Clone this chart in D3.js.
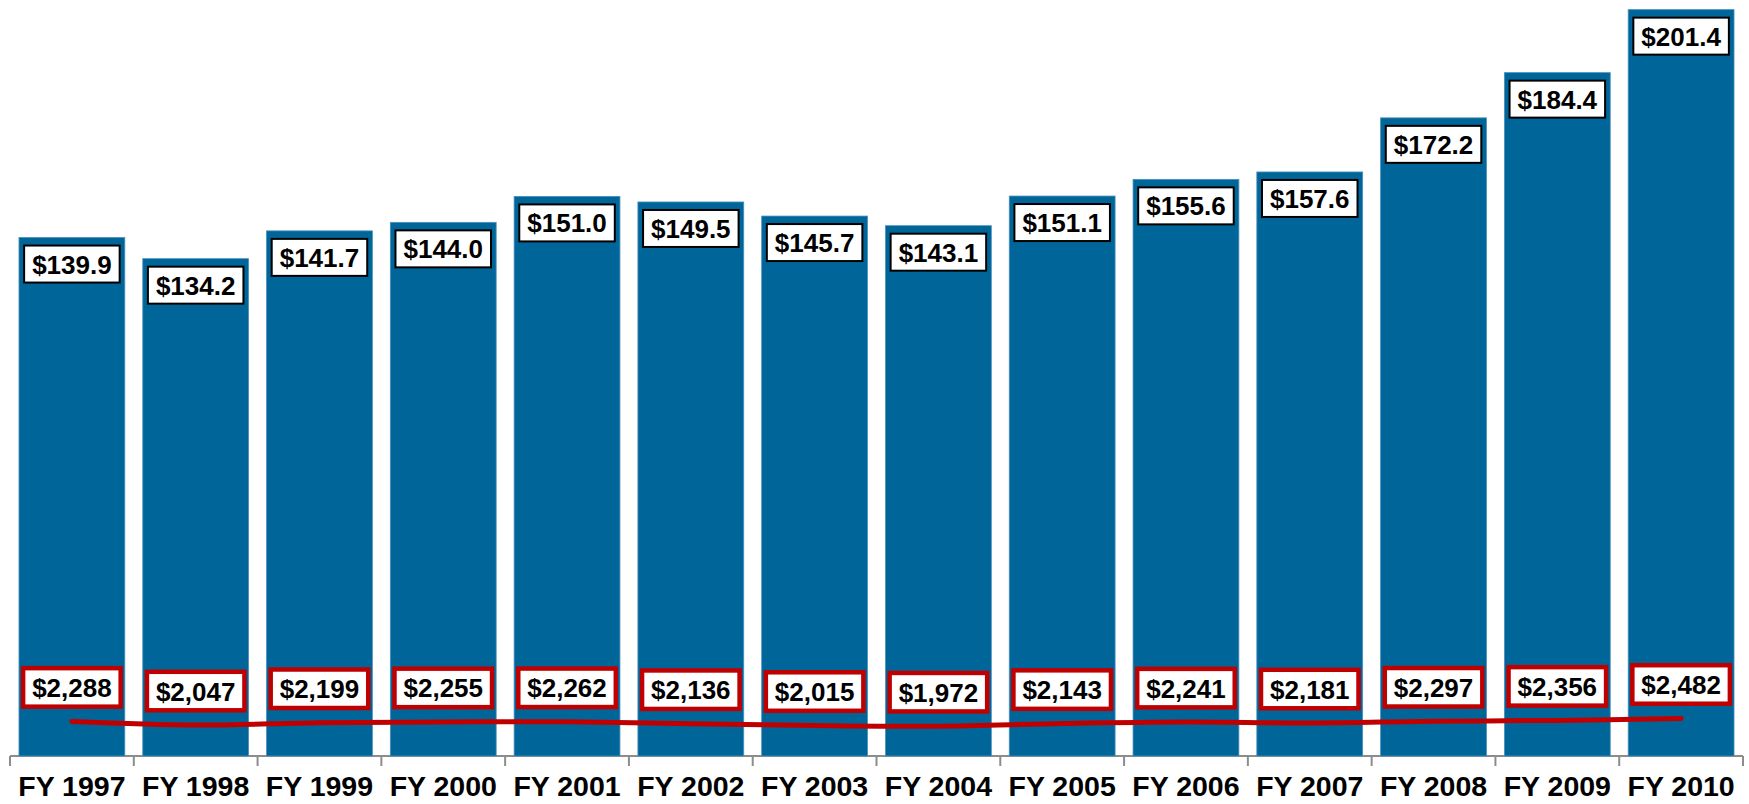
<!DOCTYPE html>
<html>
<head>
<meta charset="utf-8">
<script src="https://cdn.jsdelivr.net/npm/d3@7"></script>
<style>
  body { margin: 0; background: #fff; }
  text { font-family: "Liberation Sans", Arial, sans-serif; font-weight: bold; fill: #000; }
</style>
</head>
<body>
<svg></svg>
<script>
// DATA
const years = ["FY 1997", "FY 1998", "FY 1999", "FY 2000", "FY 2001", "FY 2002", "FY 2003",
               "FY 2004", "FY 2005", "FY 2006", "FY 2007", "FY 2008", "FY 2009", "FY 2010"];
const totalValues = [139.9, 134.2, 141.7, 144.0, 151.0, 149.5, 145.7, 143.1, 151.1, 155.6, 157.6, 172.2, 184.4, 201.4];
const perCapitaValues = [2288, 2047, 2199, 2255, 2262, 2136, 2015, 1972, 2143, 2241, 2181, 2297, 2356, 2482];

// GLOBAL DECLARATIONS
let svg;
let width = 1749;
let height = 804;
let baseY = 756;
let x, y, y2;
const padInner = 0.145;

setupPage();
drawAxis();
drawBars();
drawLine();

function setupPage(){
  svg = d3.select("svg")
    .attr("width", width)
    .attr("height", height);

  x = d3.scaleBand()
    .domain(years)
    .range([10, 1743])
    .paddingInner(padInner)
    .paddingOuter(padInner / 2);

  y = d3.scaleLinear()
    .domain([0, 204])
    .range([baseY, 0]);

  // secondary scale for the red line
  y2 = d3.scaleLinear()
    .domain([0, 50000])
    .range([baseY, 0]);
}

function drawAxis(){
  let axis = svg.append("g").attr("class", "x-axis");
  let step = x.step();
  let bounds = years.map(d => x(d) - step * padInner / 2);
  bounds.push(x.range()[1]);

  axis.append("line")
    .attr("x1", x.range()[0]).attr("x2", x.range()[1])
    .attr("y1", baseY).attr("y2", baseY)
    .attr("stroke", "#8c8c8c").attr("stroke-width", 2);

  axis.selectAll(".tick")
    .data(bounds)
    .enter()
    .append("line")
    .attr("class", "tick")
    .attr("x1", d => d).attr("x2", d => d)
    .attr("y1", baseY).attr("y2", baseY + 10)
    .attr("stroke", "#8c8c8c").attr("stroke-width", 2);

  axis.selectAll(".year-label")
    .data(years)
    .enter()
    .append("text")
    .attr("class", "year-label")
    .attr("x", d => x(d) + x.bandwidth() / 2)
    .attr("y", 796)
    .attr("text-anchor", "middle")
    .style("font-size", "28.5px")
    .text(d => d);
}

function drawBars(){
  let bars = svg.selectAll(".bar")
    .data(totalValues)
    .enter()
    .append("g")
    .attr("class", "bar");

  bars.append("rect")
    .attr("x", (d, i) => x(years[i]))
    .attr("y", d => y(d))
    .attr("width", x.bandwidth())
    .attr("height", d => baseY - y(d))
    .attr("fill", "#006699")
    .attr("stroke", "#4a90bd")
    .attr("stroke-width", 0.8);

  // value boxes at top of each bar
  bars.each(function(d, i){
    let g = d3.select(this);
    let cx = x(years[i]) + x.bandwidth() / 2;
    let boxTop = y(d) + 8;
    let boxH = 37;
    let rect = g.append("rect");
    let label = g.append("text")
      .attr("x", cx)
      .attr("y", boxTop + boxH / 2 + 9.5)
      .attr("text-anchor", "middle")
      .style("font-size", "26px")
      .text("$" + d3.format(".1f")(d));
    let w = label.node().getComputedTextLength() + 16;
    rect.attr("x", cx - w / 2)
      .attr("y", boxTop)
      .attr("width", w)
      .attr("height", boxH)
      .attr("fill", "#fff")
      .attr("stroke", "#000")
      .attr("stroke-width", 2);
  });
}

function drawLine(){
  let cx = i => x(years[i]) + x.bandwidth() / 2;

  let line = d3.line()
    .x((d, i) => cx(i))
    .y(d => y2(d))
    .curve(d3.curveCatmullRom);

  svg.append("path")
    .datum(perCapitaValues)
    .attr("d", line)
    .attr("fill", "none")
    .attr("stroke", "#c00000")
    .attr("stroke-width", 5)
    .attr("stroke-linecap", "round");

  let labels = svg.selectAll(".line-label")
    .data(perCapitaValues)
    .enter()
    .append("g")
    .attr("class", "line-label");

  labels.each(function(d, i){
    let g = d3.select(this);
    let centerY = y2(d) - 34;
    let boxH = 38.5;
    let rect = g.append("rect");
    let label = g.append("text")
      .attr("x", cx(i))
      .attr("y", centerY + 9.5)
      .attr("text-anchor", "middle")
      .style("font-size", "26px")
      .text("$" + d3.format(",")(d));
    let w = label.node().getComputedTextLength() + 18;
    rect.attr("x", cx(i) - w / 2)
      .attr("y", centerY - boxH / 2)
      .attr("width", w)
      .attr("height", boxH)
      .attr("fill", "#fff")
      .attr("stroke", "#c00000")
      .attr("stroke-width", 4.5);
  });
}
</script>
</body>
</html>
